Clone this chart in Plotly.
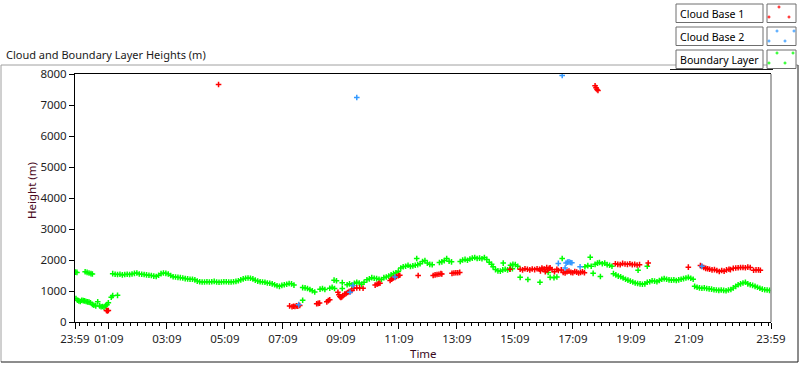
import plotly.graph_objects as go

# ---------------- data (clock time HH:MM on the day, height in m) ----------------
cloud_base_1 = [
    ("01:04", 370), ("01:06", 360), ("01:08", 370),
    ("07:23", 520), ("07:28", 490), ("07:31", 510), ("07:34", 500), ("07:37", 520), ("07:40", 510), ("07:44", 530),
    ("08:19", 590), ("08:22", 600), ("08:25", 610),
    ("08:40", 650), ("08:43", 690), ("08:46", 720),
    ("09:03", 960), ("09:05", 880), ("09:07", 820), ("09:09", 790), ("09:11", 810), ("09:13", 850),
    ("09:17", 900), ("09:20", 920), ("09:23", 950), ("09:26", 980), ("09:29", 1000), ("09:32", 1020),
    ("09:36", 1090), ("09:42", 1100), ("09:48", 1100), ("09:55", 1090),
    ("10:20", 1190), ("10:24", 1220), ("10:27", 1240), ("10:30", 1250),
    ("10:51", 1340), ("10:54", 1380), ("10:57", 1410), ("11:01", 1440), ("11:04", 1470), ("11:08", 1490), ("11:11", 1510),
    ("11:49", 1500),
    ("12:20", 1500), ("12:24", 1520), ("12:28", 1530), ("12:32", 1540), ("12:36", 1560), ("12:38", 1550),
    ("12:59", 1570), ("13:03", 1580), ("13:07", 1590), ("13:11", 1590), ("13:15", 1600),
    ("14:59", 1700),
    ("15:20", 1700), ("15:25", 1680), ("15:30", 1720), ("15:35", 1700), ("15:40", 1680), ("15:45", 1710),
    ("15:50", 1690), ("15:55", 1720), ("16:00", 1700), ("16:05", 1740), ("16:10", 1710), ("16:15", 1760),
    ("16:20", 1730), ("16:02", 1650), ("16:07", 1700), ("16:12", 1620), ("16:17", 1680), ("16:22", 1750),
    ("16:26", 1690), ("16:31", 1620), ("16:36", 1700), ("16:39", 1660), ("16:45", 1680),
    ("16:49", 1600), ("16:53", 1580), ("16:57", 1620), ("17:01", 1640), ("17:05", 1600), ("17:09", 1590),
    ("17:13", 1630), ("17:17", 1610), ("17:21", 1580), ("17:25", 1600), ("17:29", 1620), ("17:33", 1590),
    ("18:37", 1880), ("18:42", 1860), ("18:47", 1850), ("18:52", 1890), ("18:57", 1870), ("19:02", 1860),
    ("19:07", 1880), ("19:12", 1850), ("19:17", 1860), ("19:22", 1840), ("19:27", 1850),
    ("19:45", 1900),
    ("21:08", 1770),
    ("21:33", 1820), ("21:36", 1790), ("21:40", 1760), ("21:44", 1730), ("21:48", 1720), ("21:52", 1700),
    ("21:57", 1680), ("22:02", 1690), ("22:07", 1660), ("22:12", 1630), ("22:17", 1660), ("22:22", 1640),
    ("22:27", 1680), ("22:32", 1700), ("22:35", 1690),
    ("22:41", 1730), ("22:46", 1740), ("22:51", 1750), ("22:56", 1760), ("23:01", 1760), ("23:06", 1750),
    ("23:11", 1770), ("23:16", 1760),
    ("23:23", 1670), ("23:28", 1680), ("23:33", 1680), ("23:37", 1670),
    ("04:56", 7660), ("17:55", 7620), ("17:57", 7560), ("17:59", 7500), ("18:01", 7470),
]

cloud_base_2 = [
    ("07:42", 560), ("09:28", 960), ("09:34", 1180), ("09:42", 7240), ("11:01", 1450),
    ("16:39", 1890), ("16:47", 7950), ("16:53", 1740), ("16:55", 1900), ("16:58", 1930),
    ("17:01", 1940), ("17:04", 1920), ("17:07", 1910), ("17:24", 1780), ("21:36", 1800),
]

boundary_layer = [
    ("00:00", 1610), ("00:03", 1600), ("00:20", 1620), ("00:24", 1600), ("00:28", 1580), ("00:32", 1560), ("00:35", 1550),
    ("00:01", 760), ("00:04", 700), ("00:07", 680), ("00:10", 660), ("00:13", 700), ("00:16", 690), ("00:19", 680),
    ("00:22", 660), ("00:25", 650), ("00:28", 640), ("00:31", 620), ("00:35", 570), ("00:38", 540), ("00:42", 520),
    ("00:46", 650), ("00:50", 520), ("00:53", 490), ("00:56", 500), ("00:59", 480), ("01:02", 520), ("01:05", 560),
    ("01:08", 620), ("01:14", 800), ("01:17", 850), ("01:27", 860),
    ("01:17", 1560), ("01:22", 1540), ("01:27", 1530), ("01:32", 1540), ("01:37", 1520), ("01:42", 1530),
    ("01:47", 1540), ("01:52", 1530), ("01:57", 1550), ("02:02", 1570), ("02:07", 1580), ("02:12", 1550),
    ("02:17", 1540), ("02:22", 1530), ("02:27", 1520), ("02:32", 1510), ("02:37", 1500), ("02:42", 1480),
    ("02:47", 1470), ("02:52", 1510), ("02:57", 1560), ("03:02", 1580), ("03:07", 1570), ("03:12", 1550),
    ("03:17", 1500), ("03:22", 1460), ("03:27", 1450), ("03:32", 1440), ("03:37", 1430), ("03:42", 1420),
    ("03:47", 1400), ("03:52", 1390), ("03:57", 1380), ("04:02", 1380), ("04:07", 1360), ("04:12", 1320),
    ("04:17", 1300), ("04:22", 1290), ("04:27", 1290), ("04:32", 1300), ("04:37", 1290), ("04:42", 1300),
    ("04:47", 1310), ("04:52", 1290), ("04:57", 1280), ("05:02", 1290), ("05:07", 1300), ("05:12", 1300),
    ("05:17", 1290), ("05:22", 1290), ("05:27", 1300), ("05:32", 1310), ("05:37", 1330), ("05:42", 1360),
    ("05:47", 1390), ("05:52", 1410), ("05:57", 1420), ("06:02", 1410), ("06:07", 1390), ("06:12", 1350),
    ("06:17", 1320), ("06:22", 1300), ("06:27", 1290), ("06:32", 1280), ("06:37", 1260), ("06:42", 1250),
    ("06:47", 1230), ("06:52", 1200), ("06:57", 1170), ("07:02", 1150), ("07:07", 1180), ("07:12", 1200),
    ("07:17", 1220), ("07:22", 1240), ("07:27", 1230), ("07:32", 1190),
    ("07:50", 1110), ("07:55", 1100), ("08:00", 1080), ("08:05", 1050), ("08:10", 1010), ("08:15", 970),
    ("07:50", 700),
    ("08:26", 1060), ("08:31", 1080), ("08:36", 1050),
    ("08:46", 1090), ("08:51", 1120), ("08:56", 1080), ("08:55", 1350), ("09:00", 1330),
    ("09:12", 1270), ("09:12", 1080),
    ("09:22", 1200), ("09:27", 1230), ("09:32", 1190), ("09:37", 1250), ("09:42", 1280), ("09:47", 1260),
    ("09:52", 1220), ("09:57", 1280),
    ("10:03", 1360), ("10:08", 1390), ("10:13", 1430), ("10:18", 1410), ("10:23", 1400), ("10:28", 1380),
    ("10:33", 1370), ("10:38", 1430), ("10:43", 1450),
    ("10:48", 1480), ("10:53", 1520), ("10:58", 1560), ("11:03", 1590), ("11:08", 1640),
    ("11:13", 1740), ("11:18", 1780), ("11:23", 1800), ("11:28", 1830), ("11:33", 1790), ("11:38", 1810),
    ("11:43", 1830), ("11:46", 2050), ("11:48", 1850), ("11:53", 1880), ("11:58", 1950), ("12:03", 1980),
    ("12:08", 1900), ("12:13", 1860), ("12:18", 1850),
    ("12:33", 1920), ("12:38", 1940), ("12:43", 1980), ("12:48", 2050), ("12:53", 1960), ("12:58", 1940),
    ("13:16", 1950), ("13:21", 2000), ("13:26", 2020), ("13:31", 1990), ("13:36", 2030), ("13:41", 2060),
    ("13:46", 2080), ("13:51", 2050), ("13:56", 2060), ("14:01", 2040), ("14:06", 2080), ("14:11", 2020),
    ("14:16", 1930), ("14:21", 1860), ("14:24", 1780),
    ("14:29", 1690), ("14:34", 1650), ("14:39", 1640), ("14:44", 1680), ("14:45", 1900), ("14:49", 1700),
    ("14:54", 1680), ("14:59", 1700), ("15:04", 1720),
    ("15:00", 1830), ("15:05", 1860), ("15:10", 1850), ("15:15", 1800), ("15:20", 1440), ("15:36", 1370),
    ("16:01", 1280), ("16:18", 1600),
    ("16:22", 1440), ("16:30", 1430), ("16:36", 1450), ("16:47", 2050),
    ("17:34", 1780), ("17:40", 1820), ("17:45", 2090), ("17:47", 1800), ("17:51", 1570), ("17:55", 1860),
    ("18:00", 1900), ("18:04", 1920), ("18:06", 1470), ("18:10", 1880), ("18:15", 1900), ("18:20", 1850),
    ("18:25", 1830), ("18:30", 1800),
    ("18:33", 1560), ("18:38", 1520), ("18:43", 1480), ("18:48", 1460), ("18:53", 1420), ("18:58", 1380),
    ("19:03", 1350), ("19:08", 1320), ("19:13", 1290), ("19:18", 1260), ("19:23", 1240), ("19:24", 1670),
    ("19:28", 1230), ("19:33", 1220), ("19:38", 1230), ("19:43", 1800), ("19:43", 1280), ("19:48", 1300),
    ("19:53", 1330), ("19:58", 1320), ("20:03", 1300), ("20:08", 1340),
    ("20:13", 1380), ("20:18", 1400), ("20:23", 1380), ("20:28", 1360), ("20:33", 1350), ("20:38", 1360),
    ("20:43", 1340), ("20:48", 1360), ("20:53", 1380), ("20:58", 1400), ("21:03", 1420), ("21:08", 1440),
    ("21:13", 1410), ("21:18", 1380),
    ("21:21", 1150), ("21:26", 1120), ("21:31", 1100), ("21:36", 1090), ("21:41", 1100), ("21:46", 1080),
    ("21:51", 1070), ("21:56", 1060), ("22:01", 1040), ("22:06", 1030), ("22:11", 1020), ("22:16", 1030),
    ("22:21", 1020), ("22:26", 1010), ("22:31", 1030), ("22:36", 1050), ("22:41", 1100), ("22:46", 1150),
    ("22:51", 1200), ("22:56", 1230), ("23:01", 1260), ("23:06", 1280), ("23:11", 1230), ("23:16", 1200),
    ("23:21", 1180), ("23:26", 1150), ("23:31", 1120), ("23:36", 1090), ("23:41", 1060), ("23:46", 1040),
    ("23:51", 1030), ("23:56", 1020),
]

series_names = ["Cloud Base 1", "Cloud Base 2", "Boundary Layer"]
series_colors = ["#ff0000", "#3399ff", "#00ff00"]
x_tick_labels = ["23:59", "01:09", "03:09", "05:09", "07:09", "09:09", "11:09",
                 "13:09", "15:09", "17:09", "19:09", "21:09", "23:59"]
y_tick_values = [0, 1000, 2000, 3000, 4000, 5000, 6000, 7000, 8000]

DAY = "2000-01-02 "
START = "2000-01-01 23:59"
END = "2000-01-02 23:59"
tick_vals = [START] + [DAY + t for t in x_tick_labels[1:-1]] + [END]

# ---------------- figure ----------------
L, R, T, B = 75, 29, 74, 43
W, H = 800 - L - R, 365 - T - B
BOT = 365 - B


def px(x):
    return (x - L) / W


def py(y):
    return (BOT - y) / H


fig = go.Figure()
order = [2, 0, 1]  # boundary layer underneath, cloud bases on top
all_pts = [cloud_base_1, cloud_base_2, boundary_layer]
for i in order:
    pts = all_pts[i]
    color = series_colors[i]
    fig.add_trace(go.Scatter(
        x=[DAY + t for t, _ in pts], y=[h for _, h in pts], mode="markers", name=series_names[i],
        marker=dict(symbol="cross-thin", size=4, color=color,
                    line=dict(color=color, width=1.5)),
        showlegend=False))

tick_font = dict(family="Noto Sans", size=11.5, color="#1e1e1e")
fig.update_xaxes(
    type="date", range=[START, END], tickvals=tick_vals, ticktext=x_tick_labels,
    showgrid=False, zeroline=False, showline=True, linecolor="#000000", linewidth=1,
    mirror=True, ticks="outside", ticklen=6, tickcolor="#000000", tickfont=tick_font,
    minor=dict(ticks="outside", ticklen=3, tickcolor="#000000",
               tick0="2000-01-02 01:09", dtick=15 * 60 * 1000, showgrid=False),
)
fig.update_yaxes(
    range=[0, 8000], tickvals=y_tick_values, showgrid=False, zeroline=False,
    showline=True, linecolor="#000000", linewidth=1, ticks="outside", ticklen=5,
    tickcolor="#000000", tickfont=tick_font,
)

shapes = []
gray, dark = "#a0a0a0", "#1a1a1a"
# outer frame
shapes += [
    dict(type="line", xref="paper", yref="paper", x0=px(1), x1=px(798), y0=py(65), y1=py(65), line=dict(color=gray, width=1)),
    dict(type="line", xref="paper", yref="paper", x0=px(1), x1=px(1), y0=py(65), y1=py(362), line=dict(color=gray, width=1)),
    dict(type="line", xref="paper", yref="paper", x0=px(1), x1=px(798), y0=py(362), y1=py(362), line=dict(color=dark, width=1)),
    dict(type="line", xref="paper", yref="paper", x0=px(798), x1=px(798), y0=py(65), y1=py(362), line=dict(color=dark, width=1)),
    dict(type="line", xref="paper", yref="paper", x0=1, x1=1, y0=0, y1=1, line=dict(color="#909090", width=1.5)),
    dict(type="line", xref="paper", yref="paper", x0=px(670), x1=px(773), y0=py(69.5), y1=py(69.5), line=dict(color=dark, width=1)),
]
annotations = []
box_tops = [4, 27, 50]
for i, (name, color) in enumerate(zip(series_names, series_colors)):
    y0 = box_tops[i]
    y1 = y0 + 18.5
    shapes.append(dict(type="rect", xref="paper", yref="paper", x0=px(676), x1=px(763), y0=py(y1), y1=py(y0),
                       line=dict(color="#6e6e6e", width=1), fillcolor="#ffffff"))
    shapes.append(dict(type="rect", xref="paper", yref="paper", x0=px(767), x1=px(796), y0=py(y1), y1=py(y0),
                       line=dict(color="#6e6e6e", width=1), fillcolor="#ffffff"))
    annotations.append(dict(text=name, xref="paper", yref="paper", x=px(678), y=py(y0 + 9.5),
                            xanchor="left", yanchor="middle", showarrow=False,
                            font=dict(family="Noto Sans", size=10.6, color="#000000")))
    icons = [[(779, 7), (769, 17), (789, 17)],
             [(777, 31), (794, 31), (769, 41), (785, 41)],
             [(777, 53), (793, 53), (769, 63), (785, 63)]][i]
    for cx, cy in icons:
        shapes.append(dict(type="line", xref="paper", yref="paper", x0=px(cx - 1.5), x1=px(cx + 1.5),
                           y0=py(cy), y1=py(cy), line=dict(color=color, width=1)))
        shapes.append(dict(type="line", xref="paper", yref="paper", x0=px(cx), x1=px(cx),
                           y0=py(cy - 1.5), y1=py(cy + 1.5), line=dict(color=color, width=1)))

annotations += [
    dict(text="Cloud and Boundary Layer Heights (m)", xref="paper", yref="paper", x=px(4), y=py(55),
         xanchor="left", yanchor="middle", showarrow=False,
         font=dict(family="Noto Sans", size=11, color="#1a1a1a")),
    dict(text="Height (m)", xref="paper", yref="paper", x=px(31), y=py(190), textangle=-90,
         xanchor="center", yanchor="middle", showarrow=False,
         font=dict(family="Noto Sans", size=11.5, color="#4a0a22")),
    dict(text="Time", xref="paper", yref="paper", x=0.5, y=py(353),
         xanchor="center", yanchor="middle", showarrow=False,
         font=dict(family="Noto Sans", size=11.5, color="#3a0a1e")),
]

fig.update_layout(
    width=800, height=365, margin=dict(l=L, r=R, t=T, b=B),
    paper_bgcolor="#ffffff", plot_bgcolor="#ffffff", showlegend=False,
    shapes=shapes, annotations=annotations,
)
fig.write_html(
    "out.html",
    config={"displayModeBar": False},
    post_script="document.body.style.margin='0';document.body.style.overflow='hidden';",
)
